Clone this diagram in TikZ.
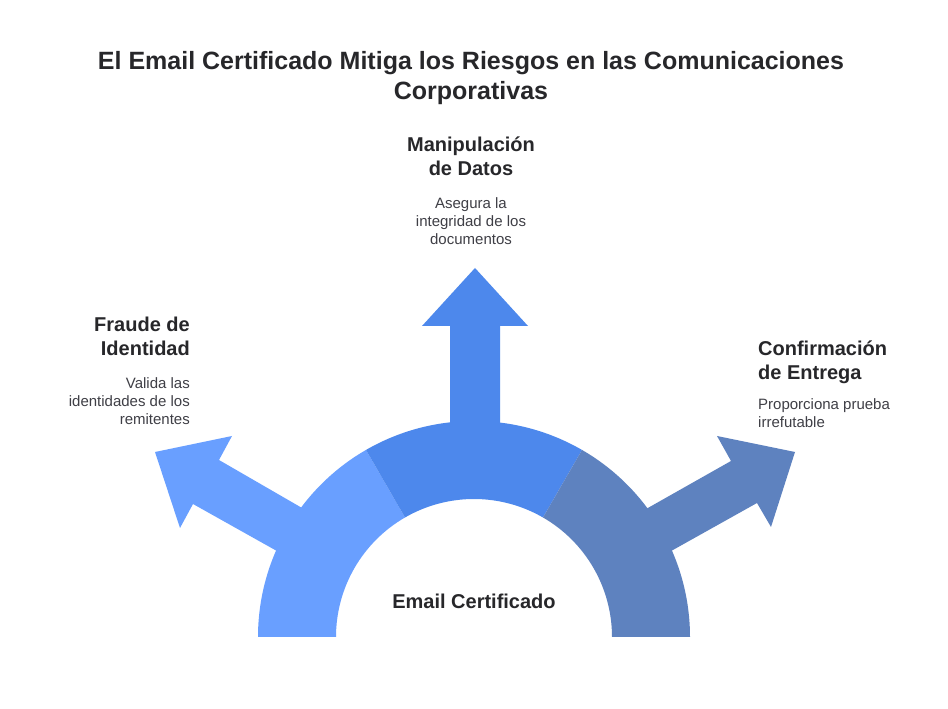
\documentclass[tikz,border=0pt]{standalone}
\usepackage{fontspec}
\setmainfont{Liberation Sans}
\definecolor{myleft}{RGB}{105,159,255}
\definecolor{mymid}{RGB}{77,136,236}
\definecolor{myright}{RGB}{94,130,191}
\definecolor{myhead}{RGB}{39,39,42}
\definecolor{mybody}{RGB}{63,63,70}
\tikzset{
  headtext/.style={inner sep=0pt,color=myhead,font=\fontsize{20}{24}\selectfont\bfseries},
  bodytext/.style={inner sep=0pt,color=mybody,font=\fontsize{15}{18}\selectfont}
}

\begin{document}
\begin{tikzpicture}[x=1pt,y=1pt]
    \useasboundingbox (0,0) rectangle (948,709);
    \fill[white] (0,0) rectangle (948,709);
    \coordinate (center) at (474,72);

    % Arrows
    \fill[myleft]
      (155,257) -- (232,273) -- (219,249) -- (309,197)
      -- (284,154) -- (193,205) -- (180,181) -- cycle;
    \fill[mymid]
      (475,441) -- (528,383) -- (500,383) -- (500,270)
      -- (450,270) -- (450,383) -- (422,383) -- cycle;
    \fill[myright]
      (795,257) -- (717,273) -- (731,248) -- (639,196)
      -- (664,154) -- (757,206) -- (771,182) -- cycle;

    % Half ring
    \foreach \Ac/\Bc/\Col in {180/120/myleft,120/60/mymid,60/0/myright}
    {
      \fill[\Col]
        ([shift={(\Ac:216)}]center) arc[start angle=\Ac,end angle=\Bc,radius=216pt]
        -- ([shift={(\Bc:138)}]center) arc[start angle=\Bc,end angle=\Ac,radius=138pt]
        -- cycle;
    }

    % Title
    \node[align=center,inner sep=0pt,color=myhead,font=\fontsize{25}{30}\selectfont\bfseries] (title)
      at (471,631) {El Email Certificado Mitiga los Riesgos en las Comunicaciones\\Corporativas};

    % Labels
    \node[headtext,align=center] (datoshead) at (471,553) {Manipulación\\de Datos};
    \node[bodytext,align=center] (datosbody) at (471,488) {Asegura la\\integridad de los\\documentos};

    \node[headtext,align=right,anchor=east] (fraudehead) at (190,373) {Fraude de\\Identidad};
    \node[bodytext,align=right,anchor=east] (fraudebody) at (190,308) {Valida las\\identidades de los\\remitentes};

    \node[headtext,align=left,anchor=west] (entregahead) at (758,347) {Confirmación\\de Entrega};
    \node[bodytext,align=left,anchor=west] (entregabody) at (758,296) {Proporciona prueba\\irrefutable};

    \node[headtext] (email) at (474,108) {Email Certificado};
\end{tikzpicture}
\end{document}
